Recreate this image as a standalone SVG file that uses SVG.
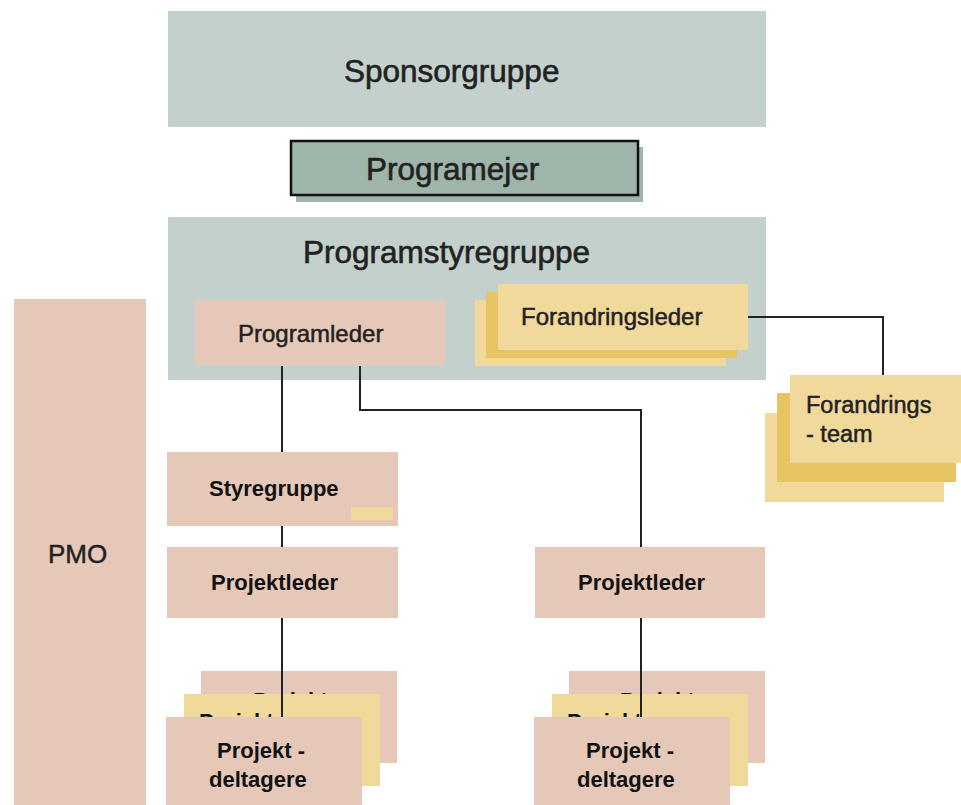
<svg xmlns="http://www.w3.org/2000/svg" width="961" height="805" viewBox="0 0 961 805">
  <style>
    text { font-family: "Liberation Sans", Arial, sans-serif; fill: #222; }
    .big { font-size: 31.5px; stroke: #222; stroke-width: 0.6; }
    .mid { font-size: 24px; stroke: #222; stroke-width: 0.5; }
    .bold { font-size: 22px; font-weight: bold; fill: #111; }
    .grey { fill: #c3d0cb; }
    .sage { fill: #9fb5aa; }
    .pink { fill: #e6c8b8; }
    .pale { fill: #f1d99b; }
    .gold { fill: #e6c462; }
    .wire { fill: none; stroke: #222; stroke-width: 2; }
  </style>

  <g id="sponsorgruppe">
    <rect class="grey" x="168" y="11" width="598" height="116"/>
    <text class="big" x="344" y="82">Sponsorgruppe</text>
  </g>

  <g id="programejer">
    <rect class="sage" x="296" y="147" width="347" height="55"/>
    <rect class="sage" x="291" y="141" width="347" height="54" stroke="#111" stroke-width="2.5"/>
    <text class="big" x="366" y="180">Programejer</text>
  </g>

  <g id="programstyregruppe">
    <rect class="grey" x="168" y="217" width="598" height="163"/>
    <text class="big" x="303" y="263">Programstyregruppe</text>
  </g>

  <g id="programleder">
    <rect class="pink" x="195" y="300" width="250" height="65"/>
    <text class="mid" x="238" y="342">Programleder</text>
  </g>

  <g id="forandringsleder">
    <rect class="pale" x="475" y="300" width="251" height="66"/>
    <rect class="gold" x="486" y="292" width="251" height="66"/>
    <rect class="pale" x="498" y="284" width="250" height="66"/>
    <text class="mid" x="521" y="325">Forandringsleder</text>
  </g>

  <g id="forandringsteam">
    <rect class="pale" x="765" y="413" width="179" height="89"/>
    <rect class="gold" x="777" y="393" width="179" height="89"/>
    <rect class="pale" x="790" y="375" width="175" height="88"/>
    <text class="mid" x="806" y="413" style="font-size:23.5px">Forandrings</text>
    <text class="mid" x="806" y="442" style="font-size:23.5px">- team</text>
  </g>

  <g id="pmo">
    <rect class="pink" x="14" y="299" width="132" height="510"/>
    <text class="mid" x="48" y="563" style="font-size:26px">PMO</text>
  </g>

  <g id="styregruppe">
    <rect class="pink" x="167" y="452" width="231" height="74"/>
    <rect class="pale" x="351" y="507" width="42" height="13"/>
    <text class="bold" x="209" y="496">Styregruppe</text>
  </g>

  <g id="projektleder-1">
    <rect class="pink" x="167" y="547" width="231" height="71"/>
    <text class="bold" x="211" y="590">Projektleder</text>
  </g>

  <g id="projektleder-2">
    <rect class="pink" x="535" y="547" width="230" height="71"/>
    <text class="bold" x="578" y="590">Projektleder</text>
  </g>

  <g id="deltagere-1-back">
    <rect class="pink" x="201" y="671" width="196" height="92"/>
    <text class="bold" x="253" y="708">Projekt -</text>
    <rect class="pale" x="184" y="694" width="196" height="92"/>
    <text class="bold" x="199" y="729">Projekt -</text>
  </g>

  <g id="deltagere-2-back">
    <rect class="pink" x="569" y="671" width="196" height="92"/>
    <text class="bold" x="620" y="708">Projekt -</text>
    <rect class="pale" x="552" y="694" width="196" height="92"/>
    <text class="bold" x="567" y="729">Projekt -</text>
  </g>

  <g id="connectors">
    <path class="wire" d="M282 366 V452 M282 526 V547 M282 618 V717"/>
    <path class="wire" d="M360 366 V410 H641 V547 M641 618 V717"/>
    <path class="wire" d="M748 317 H883 V375"/>
  </g>

  <g id="deltagere-1">
    <rect class="pink" x="166" y="717" width="196" height="92"/>
    <text class="bold" x="217" y="758">Projekt -</text>
    <text class="bold" x="209" y="787">deltagere</text>
  </g>

  <g id="deltagere-2">
    <rect class="pink" x="534" y="717" width="196" height="92"/>
    <text class="bold" x="586" y="758">Projekt -</text>
    <text class="bold" x="577" y="787">deltagere</text>
  </g>
</svg>
